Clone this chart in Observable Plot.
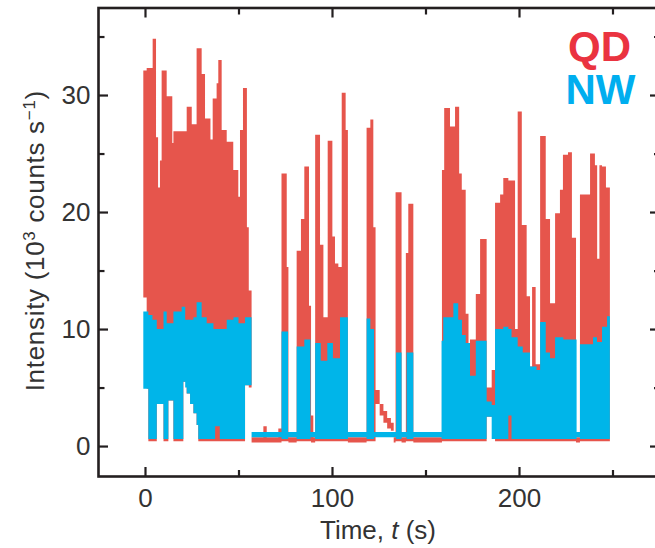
<!DOCTYPE html>
<html><head><meta charset="utf-8">
<script src="https://cdn.jsdelivr.net/npm/d3@7"></script>
<script src="https://cdn.jsdelivr.net/npm/@observablehq/plot@0.6"></script>
<style>body{margin:0;background:#fff}</style>
</head><body><div id="chart"></div>
<script>
// QD (red) trace: step breakpoints, upper and lower envelope (10^3 counts/s)
const qdTime = [-0.9,0.9,1.8,4.1,5.9,6.3,7.0,8.0,8.9,9.9,11.6,12.5,14.6,15.2,20.5,22.3,24.1,25.0,25.9,27.6,28.5,30.3,32.1,35.0,36.2,38.3,39.2,41.0,43.7,47.2,49.9,50.8,52.4,53.5,54.5,55.5,
  57.0,63.3,65.1,71.3,73.0,75.8,76.7,81.1,83.4,85.2,87.7,88.8,90.0,91.0,93.6,95.4,97.7,100.2,101.6,103.4,105.2,107.3,108.5,
  118.5,120.5,122.1,123.3,125.5,127.5,129.5,131.5,133.0,134.0,137.2,139.5,140.8,143.5,
  158.8,160.0,163.1,165.8,168.0,169.4,171.5,173.0,173.8,176.9,179.2,182.7,185.4,187.2,189.9,191.6,194.3,197.9,199.3,201.5,204.1,205.9,207.0,208.9,
  211.3,214.3,216.6,219.3,221.9,223.5,226.2,228.3,230.5,232.6,238.0,240.6,241.8,243.0,244.4,246.5,248.6];
const qdHigh = [32.1,32.3,32.3,34.8,26.4,26.4,22.1,24.4,32.1,32.1,29.9,29.9,25.9,26.9,26.9,29.0,29.0,27.5,27.5,34.0,34.0,31.8,28.0,26.2,29.7,31.0,33.0,27.0,26.0,23.6,21.3,27.0,30.6,30.6,18.7,13.3,
  0.75,1.7,0.75,1.5,23.3,15.3,0.75,16.7,19.4,23.9,12.0,2.6,0.75,26.6,17.2,11.0,26.1,17.9,15.6,15.3,30.2,27.0,0.75,
  27.2,27.9,18.7,4.8,3.6,3.0,2.4,2.0,0.75,21.7,0.75,16.5,20.7,0.75,
  23.6,28.9,27.3,29.0,23.3,21.9,11.3,8.8,9.1,13.0,17.7,5.0,6.5,20.8,21.5,22.9,22.7,10.0,28.6,18.9,12.8,6.8,13.6,7.0,
  26.5,19.4,12.2,19.9,21.9,24.9,25.1,17.8,0.75,21.5,25.0,24.0,16.0,24.0,23.9,22.1,22.1];
const qdLow = [12.7,4.9,0.4,0.4,0.4,3.6,3.6,3.6,3.6,0.4,0.4,3.9,3.9,0.4,5.5,4.5,3.6,3.6,2.8,1.8,0.4,0.4,0.4,0.4,0.4,0.4,0.4,0.4,0.4,0.4,0.4,0.4,0.4,5.2,5.2,5.0,
  0.3,0.3,0.3,0.3,0.4,0.4,0.3,0.4,0.4,0.4,0.4,0.3,0.3,0.4,0.4,0.4,0.4,0.4,0.4,0.4,0.4,0.4,0.3,
  0.4,0.4,0.4,3.6,2.6,2.0,1.5,1.3,0.3,0.4,0.3,0.4,0.4,0.3,
  0.4,0.4,0.4,0.4,0.4,0.4,0.4,0.4,0.4,0.4,0.4,2.5,2.5,0.4,0.4,0.4,0.4,0.4,0.4,0.4,0.4,0.4,0.4,0.4,
  0.4,0.4,0.4,0.4,0.4,0.4,0.4,0.4,0.3,0.4,0.4,0.4,0.4,0.4,0.4,0.4,0.4];

// NW (cyan) trace
const nwTime = [-0.9,1.8,4.0,6.3,9.9,11.6,12.5,15.2,19.6,20.5,21.5,22.3,24.1,25.9,27.6,28.5,30.3,33.0,36.6,37.5,40.0,43.7,47.3,50.0,53.5,
  57.0,73.0,76.5,81.1,85.2,88.5,91.0,94.0,97.5,100.5,104.3,108.5,118.5,120.5,122.5,134.3,137.2,139.9,143.5,
  158.6,159.5,164.9,167.5,169.5,171.5,173.8,176.9,182.7,185.4,187.2,191.6,194.3,196.0,199.3,202.0,205.9,209.4,
  211.3,214.3,216.6,219.3,223.7,230.8,232.6,239.6,241.7,244.4,247.1,248.6];
const nwHigh = [11.5,11.2,10.8,10.0,11.5,10.5,10.5,11.5,11.9,11.9,10.8,10.8,10.8,11.0,12.3,12.3,11.0,10.5,10.0,10.0,10.0,10.8,11.0,10.5,11.0,
  1.2,9.8,1.2,8.5,9.1,1.2,8.8,7.3,8.8,7.5,11.0,1.2,10.9,10.0,1.2,8.0,1.2,8.0,1.2,
  9.0,11.0,12.2,10.8,9.5,8.8,6.0,9.0,3.8,3.5,10.0,10.2,10.0,9.3,8.5,8.0,6.8,6.5,
  10.6,8.0,7.5,9.3,9.1,1.2,8.7,9.3,8.9,10.2,11.1,11.1];
const nwLow = [4.9,0.6,0.6,3.6,0.6,0.6,3.9,0.6,0.6,5.5,5.0,4.5,3.6,2.8,1.8,0.6,0.6,0.6,0.6,1.7,0.6,0.6,0.6,0.6,5.2,
  0.75,0.6,0.75,0.6,0.6,0.75,0.6,0.6,0.6,0.6,0.6,0.75,0.6,0.6,0.75,0.6,0.75,0.6,0.75,
  0.6,0.6,0.6,0.6,0.6,0.6,0.6,0.6,2.5,0.6,0.6,0.6,2.6,0.6,0.6,0.6,0.6,0.6,
  0.6,0.6,0.6,0.6,0.6,0.75,0.6,0.6,0.6,0.6,0.6,0.6];

const xMajor = [0, 100, 200];
const xMinor = [50, 150, 250];
const yMajor = [0, 10, 20, 30];
const yMinor = [5, 15, 25, 35];
const seriesNames = ["QD", "NW"];
const seriesColors = ["#e6554c", "#00b5e9"];
const labelColors = ["#ea3340", "#00aeef"];
const xTitle = "Time, t (s)";
const yTitle = "Intensity (10^3 counts s^−1)";

const qd = qdTime.map((t, i) => ({t, hi: qdHigh[i], lo: qdLow[i]}));
const nw = nwTime.map((t, i) => ({t, hi: nwHigh[i], lo: nwLow[i]}));

const ink = "#231f20";
const font = "'Liberation Sans', Arial, sans-serif";

const chart = Plot.plot({
  width: 655,
  height: 548,
  marginLeft: 98,
  marginRight: -2,
  marginTop: 7.5,
  marginBottom: 72,
  style: {fontFamily: font, background: "#fff", color: "#333"},
  x: {domain: [-25.13, 273.8]},
  y: {domain: [-2.56, 37.48]},
  marks: [
    Plot.areaY(qd, {x: "t", y1: "lo", y2: "hi", curve: "step-after", fill: seriesColors[0]}),
    Plot.areaY(nw, {x: "t", y1: "lo", y2: "hi", curve: "step-after", fill: seriesColors[1]}),
    Plot.frame({stroke: ink, strokeWidth: 2.6}),
    // inward ticks
    Plot.axisX(xMajor, {anchor: "bottom", tickSize: -9, fill: "none", stroke: ink, strokeWidth: 2.2, label: null}),
    Plot.axisX(xMinor, {anchor: "bottom", tickSize: -6, fill: "none", stroke: ink, strokeWidth: 2.2, label: null}),
    Plot.axisX(xMajor, {anchor: "top", tickSize: -9, fill: "none", stroke: ink, strokeWidth: 2.2, label: null}),
    Plot.axisX(xMinor, {anchor: "top", tickSize: -6, fill: "none", stroke: ink, strokeWidth: 2.2, label: null}),
    Plot.axisY(yMajor, {anchor: "left", tickSize: -10, fill: "none", stroke: ink, strokeWidth: 2.2, label: null}),
    Plot.axisY(yMinor, {anchor: "left", tickSize: -6.5, fill: "none", stroke: ink, strokeWidth: 2.2, label: null}),
    Plot.axisY(yMajor, {anchor: "right", tickSize: -8, fill: "none", stroke: ink, strokeWidth: 2.2, label: null}),
    Plot.axisY(yMinor, {anchor: "right", tickSize: -4, fill: "none", stroke: ink, strokeWidth: 2.2, label: null}),
    // tick labels
    Plot.axisX(xMajor, {anchor: "bottom", tickSize: 0, tickPadding: 12, fontSize: 26, fill: "#333", label: null}),
    Plot.axisY(yMajor, {anchor: "left", tickSize: 0, tickPadding: 8, fontSize: 26, fill: "#333", label: null}),
    // axis titles
    Plot.text([xTitle], {frameAnchor: "bottom", dy: 62, lineAnchor: "bottom", textAnchor: "middle", fontSize: 26, fill: "#333"}),
    Plot.text([yTitle], {frameAnchor: "left", dx: -54.5, dy: -1.5, rotate: -90, lineAnchor: "bottom", textAnchor: "middle", fontSize: 26, fill: "#333"}),
    // series labels
    Plot.text([seriesNames[0]], {frameAnchor: "top-right", dx: -58, dy: 52.5, lineAnchor: "bottom", textAnchor: "middle", fontSize: 42, fontWeight: "bold", fill: labelColors[0]}),
    Plot.text([seriesNames[1]], {frameAnchor: "top-right", dx: -57, dy: 95.5, lineAnchor: "bottom", textAnchor: "middle", fontSize: 42, fontWeight: "bold", fill: labelColors[1]})
  ]
});

document.getElementById("chart").appendChild(chart);

// rich text for axis titles (italic t, superscripts)
const texts = d3.select(chart).selectAll("text");
texts.filter(function() { return this.textContent === xTitle; }).each(function() {
  const t = d3.select(this);
  t.text(null);
  t.append("tspan").text("Time, ");
  t.append("tspan").attr("font-style", "italic").text("t");
  t.append("tspan").text(" (s)");
});
texts.filter(function() { return this.textContent === yTitle; }).each(function() {
  const t = d3.select(this);
  t.style("letter-spacing", "0.7px");
  t.text(null);
  t.append("tspan").text("Intensity (10");
  t.append("tspan").attr("baseline-shift", "super").attr("font-size", "65%").text("3");
  t.append("tspan").text(" counts s");
  t.append("tspan").attr("baseline-shift", "super").attr("font-size", "65%").text("−1");
  t.append("tspan").text(")");
});
</script>
</body></html>
